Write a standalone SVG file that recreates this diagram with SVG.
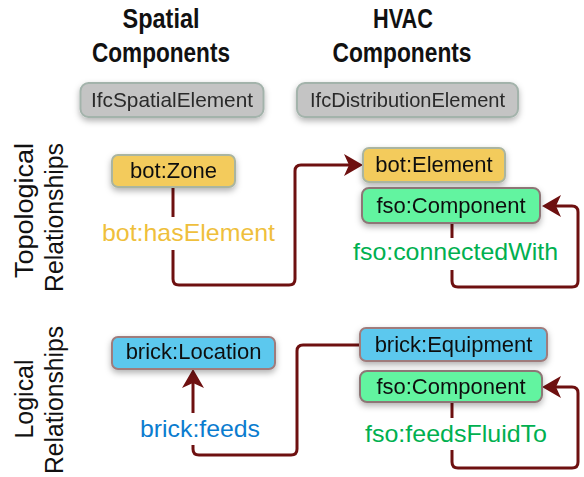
<svg xmlns="http://www.w3.org/2000/svg" width="584" height="477" viewBox="0 0 584 477">
<style>
.hdr{font-family:"Liberation Sans",Arial,sans-serif;font-size:28px;font-weight:bold;fill:#111;text-anchor:middle}
.side{font-family:"Liberation Sans",Arial,sans-serif;font-size:25px;fill:#111}
.ifc{font-family:"Liberation Sans",Arial,sans-serif;font-size:21px;fill:#2a2a2a;text-anchor:middle}
.nt{font-family:"Liberation Sans",Arial,sans-serif;font-size:22px;fill:#111;text-anchor:middle}
.lbl{font-family:"Liberation Sans",Arial,sans-serif;font-size:24px;text-anchor:middle}
.gray{fill:#c4c4c4;stroke:#a3b3ab;stroke-width:2}
.yel{fill:#f3cb5c;stroke:#aab5a0;stroke-width:2}
.grn{fill:#62f4a0;stroke:#8d7676;stroke-width:2}
.blu{fill:#5bc8ee;stroke:#a07c7c;stroke-width:2}
.con{fill:none;stroke:#6e1010;stroke-width:3}
</style>
<defs>
<filter id="sh" x="-20%" y="-30%" width="140%" height="180%">
<feDropShadow dx="0" dy="3" stdDeviation="3" flood-color="#000" flood-opacity="0.3"/>
</filter>
<marker id="ah" markerUnits="userSpaceOnUse" markerWidth="20" markerHeight="22" viewBox="0 0 20 22" refX="7" refY="11" orient="auto">
<path d="M0,0 L19,11 L0,22 L5,11 Z" fill="#6e1010"/>
</marker>
</defs>

<g id="headers">
<text class="hdr" x="161" y="28" textLength="77" lengthAdjust="spacingAndGlyphs">Spatial</text>
<text class="hdr" x="161" y="62" textLength="138" lengthAdjust="spacingAndGlyphs">Components</text>
<text class="hdr" x="403" y="28" textLength="60" lengthAdjust="spacingAndGlyphs">HVAC</text>
<text class="hdr" x="402" y="62" textLength="139" lengthAdjust="spacingAndGlyphs">Components</text>
</g>

<g id="side-labels">
<text class="side" transform="translate(33,143) rotate(-90)" text-anchor="end" textLength="135" lengthAdjust="spacingAndGlyphs">Topological</text>
<text class="side" transform="translate(63,143) rotate(-90)" text-anchor="end" textLength="149" lengthAdjust="spacingAndGlyphs">Relationships</text>
<text class="side" transform="translate(33,399) rotate(-90)" text-anchor="middle" textLength="79" lengthAdjust="spacingAndGlyphs">Logical</text>
<text class="side" transform="translate(63,400) rotate(-90)" text-anchor="middle" textLength="148" lengthAdjust="spacingAndGlyphs">Relationships</text>
</g>

<g id="connectors">
<path class="con" d="M173,187 V217"/>
<path class="con" d="M173,250 V279 Q173,285 179,285 H289 Q295,285 295,279 V171 Q295,165 301,165 H351" marker-end="url(#ah)"/>
<path class="con" d="M452,223 V238"/>
<path class="con" d="M452,270 V281 Q452,287 458,287 H572 Q578,287 578,281 V212 Q578,206 572,206 H554" marker-end="url(#ah)"/>
<path class="con" d="M360,345 H303 Q297,345 297,351 V449 Q297,455 291,455 H199 Q193,455 193,449 V445"/>
<path class="con" d="M193,413 V381" marker-end="url(#ah)"/>
<path class="con" d="M452,402 V418"/>
<path class="con" d="M452,450 V462 Q452,468 458,468 H572 Q578,468 578,462 V393 Q578,387 572,387 H554" marker-end="url(#ah)"/>
</g>

<g id="edge-labels">
<text class="lbl" x="188.5" y="241" fill="#efbf3c" textLength="173" lengthAdjust="spacingAndGlyphs">bot:hasElement</text>
<text class="lbl" x="455.5" y="260" fill="#00b050" textLength="205" lengthAdjust="spacingAndGlyphs">fso:connectedWith</text>
<text class="lbl" x="200" y="437" fill="#0b7ccf" textLength="120" lengthAdjust="spacingAndGlyphs">brick:feeds</text>
<text class="lbl" x="456" y="442" fill="#00b050" textLength="182" lengthAdjust="spacingAndGlyphs">fso:feedsFluidTo</text>
</g>

<g id="ifc-spatial" filter="url(#sh)">
<rect class="gray" x="80.5" y="83" width="183" height="34" rx="8"/>
<text class="ifc" x="172" y="107" textLength="162" lengthAdjust="spacingAndGlyphs">IfcSpatialElement</text>
</g>
<g id="ifc-distribution" filter="url(#sh)">
<rect class="gray" x="297" y="83" width="221" height="34" rx="8"/>
<text class="ifc" x="407.5" y="107" textLength="195" lengthAdjust="spacingAndGlyphs">IfcDistributionElement</text>
</g>

<g id="bot-zone" filter="url(#sh)">
<rect class="yel" x="112" y="155" width="123" height="32" rx="6"/>
<text class="nt" x="173.5" y="178">bot:Zone</text>
</g>
<g id="bot-element" filter="url(#sh)">
<rect class="yel" x="363" y="148" width="142" height="34" rx="6"/>
<text class="nt" x="434" y="172">bot:Element</text>
</g>
<g id="fso-component-1" filter="url(#sh)">
<rect class="grn" x="362" y="188" width="178" height="35" rx="7"/>
<text class="nt" x="451" y="213">fso:Component</text>
</g>

<g id="brick-location" filter="url(#sh)">
<rect class="blu" x="112" y="337" width="163" height="32" rx="6"/>
<text class="nt" x="193.5" y="359">brick:Location</text>
</g>
<g id="brick-equipment" filter="url(#sh)">
<rect class="blu" x="360" y="328" width="187" height="33" rx="6"/>
<text class="nt" x="453.5" y="352">brick:Equipment</text>
</g>
<g id="fso-component-2" filter="url(#sh)">
<rect class="grn" x="360" y="371" width="182" height="31" rx="7"/>
<text class="nt" x="451" y="394">fso:Component</text>
</g>
</svg>
